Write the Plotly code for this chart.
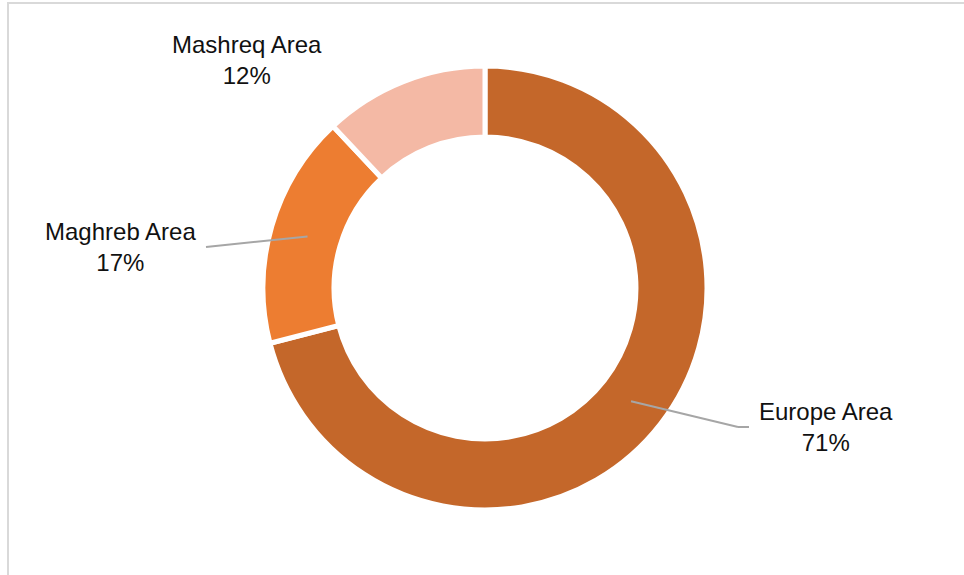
import math
import plotly.graph_objects as go

regions = ['Europe Area', 'Maghreb Area', 'Mashreq Area']
shares = [71, 17, 12]
colors = ['#C4672A', '#ED7D31', '#F4B9A5']

W, H = 964, 575
cx, cy, R = 485, 288, 222
hole = 0.68

fig = go.Figure(go.Pie(
    labels=regions, values=shares, sort=False, direction='clockwise', rotation=0,
    hole=hole, textinfo='none', hoverinfo='label+percent', showlegend=False,
    marker=dict(colors=colors, line=dict(color='white', width=5)),
    domain=dict(x=[(cx - R) / W, (cx + R) / W], y=[(H - cy - R) / H, (H - cy + R) / H]),
))

# label boxes (pixel centres) and where the leader line ends
label_pos = {'Europe Area': (826, 427, 749), 'Maghreb Area': (120, 247, 206), 'Mashreq Area': (247, 60, None)}


def px(x, y):
    return x / W, 1 - y / H


annotations = []
shapes = []
total = sum(shares)
start = 0
for name, v in zip(regions, shares):
    mid = (start + v / 2) / total * 2 * math.pi
    start += v
    lx, ly, end_x = label_pos[name]
    annotations.append(dict(x=px(lx, ly)[0], y=px(lx, ly)[1], xref='paper', yref='paper',
                            xanchor='center', yanchor='middle',
                            text=f'{name}<br>{round(v / total * 100)}%', showarrow=False,
                            font=dict(family='Liberation Sans, Arial', size=24, color='#111111'),
                            align='center'))
    if end_x is not None:
        r_mid = 220 * (1 + hole) / 2
        sx = cx + r_mid * math.sin(mid)
        sy = cy - r_mid * math.cos(mid)
        elbow = end_x - 11 if end_x > cx else end_x
        x0, y0 = px(sx, sy)
        x1, y1 = px(elbow, ly)
        shapes.append(dict(type='line', xref='paper', yref='paper', x0=x0, y0=y0, x1=x1, y1=y1,
                           line=dict(color='#A6A6A6', width=2)))
        if end_x > cx:
            x2, _ = px(end_x, ly)
            shapes.append(dict(type='line', xref='paper', yref='paper', x0=x1, y0=y1, x1=x2, y1=y1,
                               line=dict(color='#A6A6A6', width=2)))

# chart frame (only left and top edges visible)
shapes.append(dict(type='line', xref='paper', yref='paper', x0=8 / W, x1=8 / W, y0=0, y1=1 - 2 / H,
                   line=dict(color='#D9D9D9', width=2)))
shapes.append(dict(type='line', xref='paper', yref='paper', x0=7 / W, x1=1, y0=1 - 3 / H, y1=1 - 3 / H,
                   line=dict(color='#D9D9D9', width=2)))

fig.update_layout(width=W, height=H, margin=dict(l=0, r=0, t=0, b=0),
                  paper_bgcolor='white', plot_bgcolor='white',
                  annotations=annotations, shapes=shapes)

fig.write_html("out.html", config={'displayModeBar': False},
               post_script="document.body.style.margin='0px';")
